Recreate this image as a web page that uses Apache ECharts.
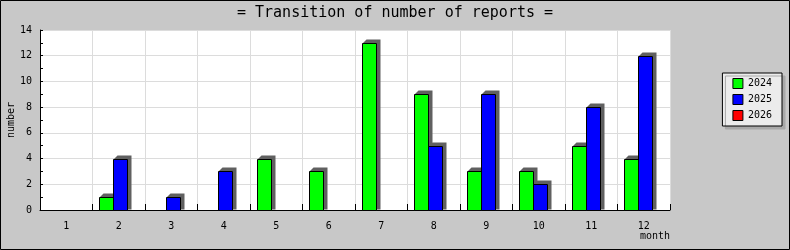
<!DOCTYPE html>
<html>
<head>
<meta charset="utf-8">
<script src="https://cdn.jsdelivr.net/npm/echarts@6/dist/echarts.min.js"></script>
<style>
html,body{margin:0;padding:0;background:#c8c8c8;}
#chart{width:790px;height:250px;}
</style>
</head>
<body>
<div id="chart"></div>
<script>
var titleText = '= Transition of number of reports =';
var months = ['1','2','3','4','5','6','7','8','9','10','11','12'];
var seriesNames = ['2024','2025','2026'];
var values2024 = [null, 1, null, null, 4, 3, 13, 9, 3, 3, 5, 4];
var values2025 = [null, 4, 1, 3, null, null, null, 5, 9, 2, 8, 12];
var values2026 = [null, null, null, null, null, null, null, null, null, null, null, null];
var seriesColors = ['#00ff00', '#0000ff', '#ff0000'];
var yTicks = {min: 0, max: 14, interval: 2};

var mono = 'DejaVu Sans Mono';
var BAR_W = 14, BAR_OFFSET = 6.5, DEPTH = 4;
var chart = echarts.init(document.getElementById('chart'), null, {renderer: 'canvas'});

function toPairs(arr) {
  var out = [];
  for (var i = 0; i < arr.length; i++) {
    if (arr[i] !== null && arr[i] !== undefined) out.push([i, arr[i]]);
  }
  return out;
}

function makeRender(slot, color) {
  return function (params, api) {
    var cat = api.value(0), val = api.value(1);
    var base = api.coord([cat, 0]);
    var top = api.coord([cat, val]);
    var w = api.size([1, 0])[0];
    var start = base[0] - w / 2;
    var x1 = Math.round(start + BAR_OFFSET + slot * BAR_W) + 0.5;
    var x2 = x1 + BAR_W;
    var yt = Math.round(top[1]) + 0.5;
    var yb = Math.round(base[1]) + 0.5;
    return {
      type: 'group',
      children: [{
        type: 'polygon',
        shape: {points: [[x1, yt], [x1 + DEPTH, yt - DEPTH], [x2 + DEPTH, yt - DEPTH], [x2 + DEPTH, yb - 1], [x2, yb - 1], [x2, yt]]},
        style: {fill: '#606060', stroke: null}
      }, {
        type: 'rect',
        shape: {x: x1, y: yt, width: BAR_W, height: yb - yt},
        style: {fill: color, stroke: '#000', lineWidth: 1}
      }]
    };
  };
}

function customSeries(slot, name, data, color) {
  return {
    name: name,
    type: 'custom',
    data: toPairs(data),
    encode: {x: 0, y: 1},
    itemStyle: {color: color},
    renderItem: makeRender(slot, color),
    clip: false,
    animation: false,
    emphasis: {disabled: true}
  };
}

chart.setOption({
  backgroundColor: '#c8c8c8',
  animation: false,
  title: {
    text: titleText,
    left: 'center',
    top: 1,
    textStyle: {fontFamily: mono, fontSize: 15, fontWeight: 'normal', color: '#000'}
  },
  legend: {
    orient: 'vertical',
    right: 8,
    top: 73,
    data: seriesNames,
    icon: 'rect',
    itemWidth: 10,
    itemHeight: 10,
    itemGap: 5,
    padding: [5, 10, 5, 10],
    backgroundColor: '#ececec',
    borderColor: '#000',
    borderWidth: 1,
    borderRadius: 0,
    shadowColor: '#a8a8a8',
    shadowBlur: 0,
    shadowOffsetX: 3,
    shadowOffsetY: 3,
    textStyle: {fontFamily: mono, fontSize: 10, color: '#000', lineHeight: 11},
    itemStyle: {borderColor: '#000', borderWidth: 1, shadowColor: 'rgba(0,0,0,0)', shadowBlur: 0, shadowOffsetX: 0, shadowOffsetY: 0},
    selectedMode: false
  },
  grid: {left: 40, right: 120, top: 30, bottom: 40, containLabel: false, outerBoundsMode: 'none', backgroundColor: '#fff', show: true, borderWidth: 0},
  xAxis: {
    type: 'category',
    data: months,
    name: 'month',
    nameLocation: 'end',
    nameGap: 0,
    nameMoveOverlap: false,
    nameTextStyle: {fontFamily: mono, fontSize: 10, color: '#000', align: 'right', verticalAlign: 'top', padding: [21, 0, 0, 0]},
    axisLine: {show: true, lineStyle: {color: '#000', width: 1}},
    axisTick: {show: true, inside: true, length: 6, lineStyle: {color: '#000'}},
    axisLabel: {fontFamily: mono, fontSize: 10, color: '#000', margin: 11},
    splitLine: {show: true, lineStyle: {color: '#dcdcdc', width: 1}}
  },
  yAxis: {
    type: 'value',
    min: yTicks.min,
    max: yTicks.max,
    interval: yTicks.interval,
    name: 'number',
    nameLocation: 'middle',
    nameGap: 24,
    nameRotate: 90,
    nameMoveOverlap: false,
    nameTextStyle: {fontFamily: mono, fontSize: 10, color: '#000'},
    axisLine: {show: true, lineStyle: {color: '#000', width: 1}},
    axisTick: {show: true, inside: true, length: 3, lineStyle: {color: '#000'}},
    minorTick: {show: true, splitNumber: 2, length: 3, lineStyle: {color: '#000'}},
    axisLabel: {fontFamily: mono, fontSize: 10, color: '#000', margin: 8},
    splitLine: {show: true, lineStyle: {color: '#dcdcdc', width: 1}}
  },
  graphic: [{
    type: 'rect',
    shape: {x: 0.5, y: 0.5, width: 789, height: 249},
    style: {fill: null, stroke: '#000', lineWidth: 1},
    silent: true,
    z: 100
  }],
  series: [
    customSeries(0, seriesNames[0], values2024, seriesColors[0]),
    customSeries(1, seriesNames[1], values2025, seriesColors[1]),
    customSeries(2, seriesNames[2], values2026, seriesColors[2])
  ]
});
</script>
</body>
</html>
